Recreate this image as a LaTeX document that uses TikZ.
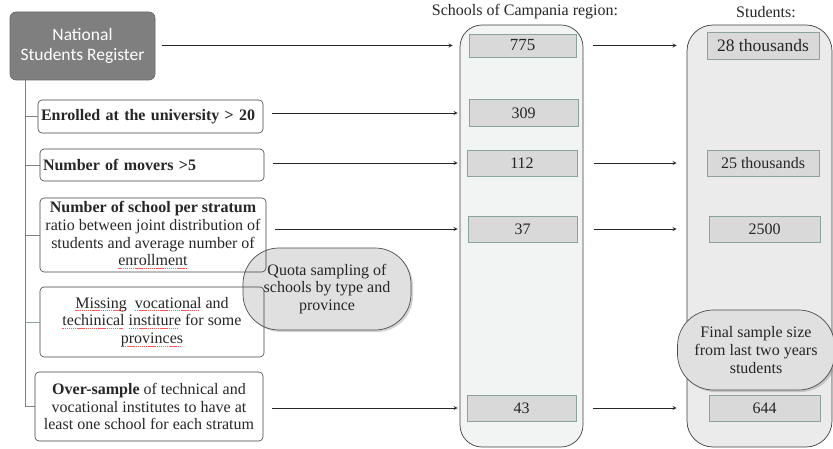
\documentclass[tikz,border=0pt]{standalone}
\usepackage{fontspec}
\setmainfont{Liberation Serif}
\newfontfamily\calibri{Carlito}
\usetikzlibrary{shadows}

\definecolor{boxgray}{HTML}{7F7F7F}
\definecolor{cellfill}{HTML}{D9D9D9}
\definecolor{celledge}{HTML}{8AA39E}
\definecolor{schfill}{HTML}{F2F3F3}
\definecolor{stufill}{HTML}{EBEBEB}
\definecolor{bubblefill}{HTML}{E0E0E0}

% red spell-check marks under some words
\newcommand\spellchk[1]{\setbox0\hbox{#1}\leavevmode\rlap{\textcolor{red!65}{\hbox to \wd0{\leaders\hbox{\rule[-3pt]{1.4pt}{0.6pt}\hskip0.7pt}\hfill}}}\box0\relax}

\tikzset{
  every node/.style={font=\fontsize{16}{17.8}\selectfont, text=black!85},
  filter/.style={draw=black!75, rounded corners=4pt, line width=0.6pt, inner sep=3pt},
  column/.style={draw=black!75, line width=0.7pt, rounded corners=22pt, minimum width=123pt, minimum height=422pt, inner sep=0pt},
  cell/.style={draw=celledge, fill=cellfill, line width=0.6pt, minimum width=109pt, minimum height=26pt, inner sep=0pt},
  bubble/.style={draw=black!70, fill=bubblefill, line width=0.7pt, rounded corners=36pt, align=center,
    drop shadow={opacity=0.35, shadow xshift=2pt, shadow yshift=-2pt}},
  flow/.style={->, >=stealth, line width=0.8pt, black!85},
  branch/.style={draw=black!50, line width=0.7pt},
}

\begin{document}
\begin{tikzpicture}[x=1pt, y=-1pt]
\useasboundingbox (0,0) rectangle (833,449);

% the two columns
\node[column, fill=schfill] (sch) at (521.5,236) {};
\node[column, fill=stufill, minimum width=145pt, rounded corners=26pt] (stu) at (759.5,236) {};
\node (schtitle) at (525,12) {Schools of Campania region:};
\node (stutitle) at (766,12) {Students:};

% counts
\node[cell, minimum width=107pt, minimum height=23pt, font=\fontsize{17}{18}\selectfont] (c775) at (522.5,45.5) {775};
\node[cell, minimum height=27pt] (c309) at (523.5,113) {309};
\node[cell, minimum width=110pt] (c112) at (522,163) {112};
\node[cell] (c37) at (522.5,229) {37};
\node[cell] (c43) at (521.5,408) {43};
\node[cell, minimum width=112pt, minimum height=27pt, font=\fontsize{17.5}{18}\selectfont] (c28k) at (763,45.5) {28 thousands};
\node[cell, minimum width=112pt] (c25k) at (763,163) {25 thousands};
\node[cell, minimum width=111pt] (c2500) at (764.5,229) {2500};
\node[cell, minimum width=111pt] (c644) at (764.5,408) {644};

\node[bubble, minimum width=168pt, minimum height=82pt] (quota) at (327,289)
  {Quota sampling of\\schools by type and\\province};

% selection steps
\node[filter, minimum width=145pt, minimum height=68pt, fill=boxgray, draw=black!60, rounded corners=6pt,
  text=white, font=\calibri\fontsize{17.5}{20}\selectfont, align=center] (nsr) at (82.5,46)
  {National\\Students Register};
\node[filter, minimum width=225pt, minimum height=33pt, text width=219pt, align=left] (enr) at (150.5,116.5)
  {\textbf{Enrolled at the university > 20}};
\node[filter, minimum width=224pt, minimum height=32pt, text width=218pt, align=left] (mov) at (152,165)
  {\textbf{Number of movers >5}};
\node[filter, minimum width=226pt, minimum height=74pt, align=center] (str) at (153,235)
  {\textbf{Number of school per stratum}\\ratio between joint distribution of\\students and average number of\\\spellchk{enrollment}};
\node[filter, minimum width=224pt, minimum height=70pt, align=center] (mis) at (152,322)
  {\spellchk{Missing}\ \ \spellchk{vocational} and\\\spellchk{techinical} \spellchk{institure} for some\\\spellchk{provinces}};
\node[filter, minimum width=228pt, minimum height=69pt, align=center] (ovs) at (149,406.5)
  {\textbf{Over-sample} of technical and\\vocational institutes to have at\\least one school for each stratum};

\node[bubble, minimum width=157pt, minimum height=80pt] (final) at (756,350)
  {Final sample size\\from last two years\\students};

% tree
\coordinate (trunk) at (25,80);
\draw[branch] (trunk) |- (ovs.west);
\foreach \n in {enr,mov,str} \draw[branch] (\n.west -| trunk) -- (\n.west);
\draw[branch, draw=celledge] (mis.west -| trunk) -- (mis.west);

% arrows
\draw[flow, shorten <=7pt, shorten >=7pt] (nsr.east |- c775.west) -- (c775.west -| sch.west);
\foreach \b/\c in {enr/c309, mov/c112, str/c37, ovs/c43}
  \draw[flow, shorten <=9pt, shorten >=2pt] (\b.east |- \c.west) -- (\c.west -| sch.west);
\foreach \a in {c775, c112, c37, c43}
  \draw[flow, shorten <=17pt, shorten >=10pt] (\a.east) -- (\a.east -| stu.west);
\end{tikzpicture}
\end{document}
